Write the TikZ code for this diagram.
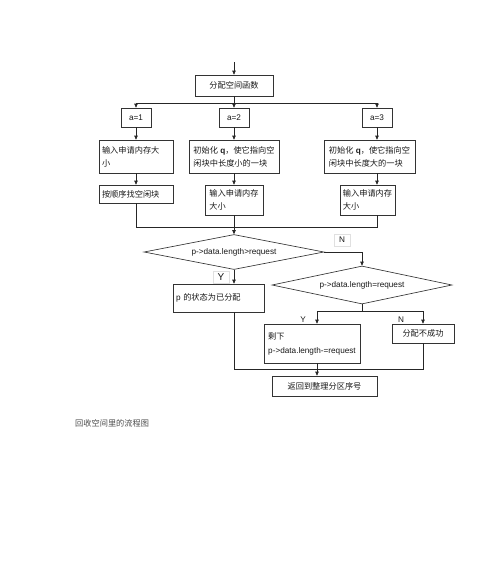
\documentclass[tikz,border=0pt]{standalone}
\usepackage{fontspec}
\setmainfont{Liberation Sans}
\newfontfamily\cjk[Scale=1.0]{Noto Sans CJK SC}
\usetikzlibrary{shapes.geometric,arrows.meta}
\begin{document}
\begin{tikzpicture}[x=1pt,y=-1pt,
  font=\fontsize{8.2}{13}\selectfont,
  ln/.style={draw=black!85, line width=0.65pt},
  arr/.style={ln, -{Triangle[length=4pt,width=3.5pt]}},
  box/.style={draw=black!80, line width=0.65pt, fill=white, inner xsep=3pt, inner ysep=1pt, text=black!90, align=center},
  dia/.style={diamond, draw=black!80, line width=0.65pt, fill=white, aspect=5, inner sep=0pt, text=black!90},
  lab/.style={draw=black!12, line width=0.4pt, inner sep=2pt, text=black!90, minimum width=16pt, minimum height=12pt}]
\useasboundingbox[fill=white] (0,0) rectangle (500,566);

% top
\coordinate (top) at (234,62);
\node[box, minimum width=78pt, minimum height=21pt] (fn) at (234,85.5) {\cjk 分配空间函数};

% a boxes
\node[box, minimum width=30pt, minimum height=19pt] (a1) at (136,117.5) {a=1};
\node[box, minimum width=30pt, minimum height=19pt] (a2) at (234,117.5) {a=2};
\node[box, minimum width=30pt, minimum height=19pt] (a3) at (377,117.5) {a=3};

% second row
\node[box, text width=68pt, align=left, minimum height=33pt] (b1) at (136,156.5) {\cjk 输入申请内存大\\ \cjk 小};
\node[box, minimum width=90pt, minimum height=33pt, align=left] (b2) at (234,156.5) {{\cjk 初始化} \textbf{q}{\cjk ，使它指向空}\\ \cjk 闲块中长度小的一块};
\node[box, minimum width=91pt, minimum height=33pt, align=left] (b3) at (369.5,156.5) {{\cjk 初始化} \textbf{q}{\cjk ，使它指向空}\\ \cjk 闲块中长度大的一块};

% third row
\node[box, text width=68pt, align=left, minimum height=18pt] (c1) at (136,194) {\cjk 按顺序找空闲块};
\node[box, minimum width=58pt, minimum height=30pt, align=left] (c2) at (234,200) {\cjk 输入申请内存\\ \cjk 大小};
\node[box, minimum width=55pt, minimum height=30pt, align=left] (c3) at (367.5,200) {\cjk 输入申请内存\\ \cjk 大小};

% decisions
\node[dia, minimum width=180pt, minimum height=35pt] (d1) at (234,252) {p->data.length>request};
\node[dia, minimum width=180pt, minimum height=38pt] (d2) at (362,285) {p->data.length=request};

% lower boxes
\node[box, text width=85pt, align=left, minimum height=28pt] (pb) at (218.5,298) {p {\cjk 的状态为已分配}};
\node[box, minimum width=96pt, minimum height=39pt, align=left] (e1) at (312,343.5) {{\cjk 剩下}\\[1pt] p->data.length-=request};
\node[box, minimum width=62pt, minimum height=19pt] (e2) at (423,333.5) {\cjk 分配不成功};
\node[box, minimum width=105pt, minimum height=20pt] (rt) at (324.5,386) {\cjk 返回到整理分区序号};

% labels
\node[lab] (n1) at (342,240) {N};
\node[lab] (y1) at (221,277) {\fontsize{10}{12}\selectfont Y};
\node[lab, draw=none] (y2) at (303,320) {Y};
\node[lab, draw=none] (n2) at (401,320) {N};

% connectors
\draw[arr] (top) -- (fn.north);
\coordinate (hl) at (136,103);
\coordinate (hr) at (377,103);
\draw[ln] (hl) -- (hr);
\draw[arr] (fn.south) -- (a2.north);
\draw[arr] (hl) -- (a1.north);
\draw[arr] (hr) -- (a3.north);
\draw[arr] (a1.south) -- (b1.north);
\draw[arr] (a2.south) -- (b2.north);
\draw[arr] (a3.south) -- (a3.south |- b3.north);
\draw[arr] (b1.south) -- (c1.north);
\draw[arr] (b2.south) -- (c2.north);
\draw[arr] (a3.south |- b3.south) -- (a3.south |- c3.north);
\coordinate (ml) at (136,227);
\coordinate (mr) at (377,227);
\draw[ln] (c1.south) -- (ml) -- (mr) -- (mr |- c3.south);
\draw[arr] (c2.south) -- (d1.north);
\draw[arr] (d1.east) -| (d2.north);
\draw[arr] (d1.south) -- (d1.south |- pb.north);
\coordinate (j) at (362,311);
\coordinate (jl) at (317,311);
\coordinate (jr) at (423,311);
\draw[ln] (d2.south) -- (j);
\draw[ln] (jl) -- (jr);
\draw[arr] (jl) -- (jl |- e1.north);
\draw[arr] (jr) -- (e2.north);
\coordinate (bl) at (234,369);
\coordinate (br) at (423,369);
\draw[ln] (bl |- pb.south) -- (bl) -- (br) -- (e2.south);
\draw[arr] (jl |- e1.south) -- (jl |- rt.north);

% caption
\node[anchor=west, inner sep=0pt, text=black!70] (cap) at (75,423) {\cjk 回收空间里的流程图};
\end{tikzpicture}
\end{document}
